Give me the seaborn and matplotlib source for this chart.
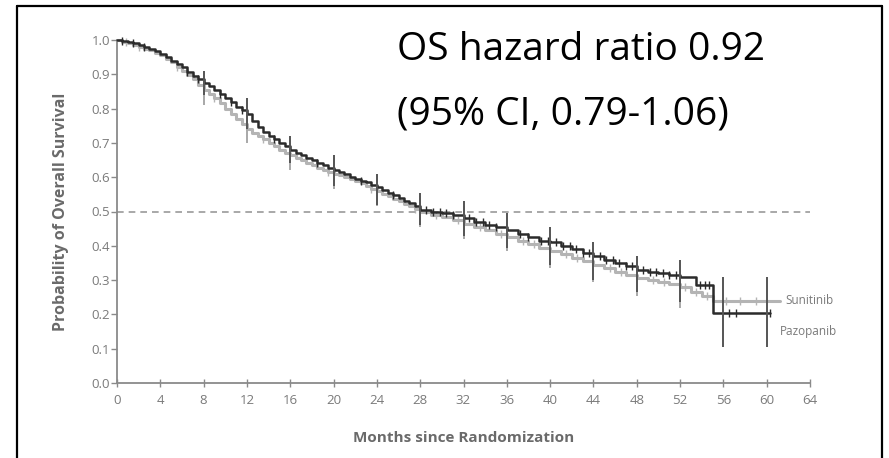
import numpy as np
import pandas as pd
import matplotlib
matplotlib.use("Agg")
import matplotlib.pyplot as plt
import seaborn as sns
from matplotlib.lines import Line2D

# ---------------- data ----------------
paz_t = [0, 0.5, 1, 1.5, 2, 2.5, 3, 3.5, 4, 4.5, 5, 5.5, 6, 6.5, 7, 7.5, 8, 8.5, 9, 9.5,
         10, 10.5, 11, 11.5, 12, 12.5, 13, 13.5, 14, 14.5, 15, 15.5, 16, 16.5, 17, 17.5,
         18, 18.5, 19, 19.5, 20, 20.5, 21, 21.5, 22, 22.5, 23, 23.5, 24, 24.5, 25, 25.5,
         26, 26.5, 27, 27.5, 28, 29, 30, 31, 32, 33, 34, 35, 36, 37, 38, 39,
         40, 41, 42, 43, 44, 45, 46, 47, 48, 49, 50, 51, 52, 53.5, 55.0, 60.3]
paz_s = [1.0, 0.998, 0.995, 0.99, 0.985, 0.98, 0.975, 0.968, 0.96, 0.95, 0.94, 0.93,
         0.92, 0.907, 0.895, 0.885, 0.875, 0.865, 0.855, 0.843, 0.83, 0.818, 0.805, 0.795,
         0.785, 0.765, 0.745, 0.732, 0.72, 0.71, 0.70, 0.69, 0.68, 0.672, 0.665, 0.657,
         0.65, 0.642, 0.635, 0.627, 0.62, 0.615, 0.61, 0.602, 0.595, 0.59, 0.585, 0.577,
         0.57, 0.562, 0.555, 0.547, 0.54, 0.532, 0.525, 0.515, 0.505, 0.50, 0.495, 0.49,
         0.48, 0.47, 0.46, 0.455, 0.445, 0.435, 0.425, 0.415, 0.41, 0.40, 0.39, 0.38,
         0.37, 0.36, 0.35, 0.34, 0.33, 0.325, 0.32, 0.315, 0.31, 0.285, 0.205, 0.205]

sun_t = [0, 0.5, 1, 1.5, 2, 2.5, 3, 3.5, 4, 4.5, 5, 5.5, 6, 6.5, 7, 7.5, 8, 8.5, 9, 9.5,
         10, 10.5, 11, 11.5, 12, 12.5, 13, 13.5, 14, 14.5, 15, 15.5, 16, 16.5, 17, 17.5,
         18, 18.5, 19, 19.5, 20, 20.5, 21, 21.5, 22, 22.5, 23, 23.5, 24, 24.5, 25, 25.5,
         26, 26.5, 27, 27.5, 28, 29, 30, 31, 32, 33, 34, 35, 36, 37, 38, 39,
         40, 41, 42, 43, 44, 45, 46, 47, 48, 49, 50, 51, 52, 53, 54, 55, 61.2]
sun_s = [1.0, 0.995, 0.99, 0.985, 0.98, 0.975, 0.97, 0.962, 0.955, 0.945, 0.935, 0.922,
         0.91, 0.897, 0.885, 0.87, 0.855, 0.842, 0.83, 0.815, 0.80, 0.785, 0.77, 0.755,
         0.74, 0.73, 0.72, 0.71, 0.70, 0.69, 0.68, 0.672, 0.665, 0.657, 0.65, 0.642,
         0.635, 0.627, 0.62, 0.615, 0.61, 0.605, 0.60, 0.595, 0.59, 0.582, 0.575, 0.567,
         0.56, 0.552, 0.545, 0.537, 0.53, 0.522, 0.515, 0.507, 0.50, 0.49, 0.485, 0.475,
         0.465, 0.455, 0.445, 0.435, 0.425, 0.415, 0.405, 0.395, 0.385, 0.375, 0.365,
         0.355, 0.345, 0.335, 0.325, 0.315, 0.305, 0.30, 0.295, 0.29, 0.28, 0.265, 0.255,
         0.24, 0.24]

ci_t = [8, 12, 16, 20, 24, 28, 32, 36, 40, 44, 48, 52, 56, 60]
paz_lo = [0.84, 0.74, 0.64, 0.575, 0.52, 0.46, 0.43, 0.395, 0.345, 0.30, 0.265, 0.235, 0.105, 0.105]
paz_hi = [0.91, 0.83, 0.72, 0.665, 0.61, 0.555, 0.53, 0.495, 0.455, 0.41, 0.37, 0.36, 0.31, 0.31]
sun_lo = [0.81, 0.70, 0.62, 0.565, 0.515, 0.455, 0.42, 0.385, 0.335, 0.295, 0.255, 0.22]
sun_hi = [0.89, 0.78, 0.70, 0.655, 0.605, 0.545, 0.515, 0.475, 0.435, 0.395, 0.355, 0.33]

paz_cens = [0.5, 1.5, 2.5, 6.5, 7.5, 9.5, 10.5, 11.5, 14.5, 18.5, 22.5, 25.5, 28.5, 29.2,
            29.8, 30.4, 31.0, 32.5, 33.2, 33.8, 34.4, 35.0, 37.2, 38.0, 39.2, 39.8,
            40.5, 41.2, 41.8, 42.4, 43.0, 43.6, 44.6, 45.2, 45.8, 46.4, 47.0, 47.6,
            48.6, 49.2, 49.8, 50.4, 51.0, 51.6, 53.8, 54.3, 54.7, 56.5, 57.2, 60.3]
sun_cens = [0.8, 2.0, 5.5, 9.0, 13.5, 19.5, 23.5, 27.5, 29.5, 31.5, 33.5, 35.5, 37.5,
            38.5, 41.5, 42.5, 45.5, 46.5, 49.5, 50.5, 52.5, 53.5, 54.5, 56.2, 57.5, 59.0]

x_ticks = list(range(0, 65, 4))
y_ticks = [0.0, 0.1, 0.2, 0.3, 0.4, 0.5, 0.6, 0.7, 0.8, 0.9, 1.0]
colors = {"Pazopanib": "#2b2b2b", "Sunitinib": "#b4b4b4"}

# ---------------- plot ----------------
sns.set_theme(style="white")
plt.rcParams["font.family"] = ["Open Sans", "DejaVu Sans"]
W, H = 889, 458
fig = plt.figure(figsize=(W / 100, H / 100), dpi=100)
ax = fig.add_axes([117 / W, 1 - 383 / H, (810 - 117) / W, (383 - 40) / H])

df = pd.concat([
    pd.DataFrame({"t": paz_t, "s": paz_s, "arm": "Pazopanib"}),
    pd.DataFrame({"t": sun_t, "s": sun_s, "arm": "Sunitinib"}),
])

sns.lineplot(data=df[df.arm == "Sunitinib"], x="t", y="s", color=colors["Sunitinib"],
             drawstyle="steps-post", estimator=None, sort=False, lw=2.2, ax=ax,
             legend=False, clip_on=False, zorder=3)
sns.lineplot(data=df[df.arm == "Pazopanib"], x="t", y="s", color=colors["Pazopanib"],
             drawstyle="steps-post", estimator=None, sort=False, lw=1.8, ax=ax,
             legend=False, clip_on=False, zorder=4)


def step_at(ts, ss, x):
    idx = np.searchsorted(np.array(ts), x, side="right") - 1
    return np.array(ss)[idx]


ax.scatter(sun_cens, step_at(sun_t, sun_s, np.array(sun_cens)), marker="|", s=30,
           color=colors["Sunitinib"], lw=1.0, zorder=3, clip_on=False)
ax.scatter(paz_cens, step_at(paz_t, paz_s, np.array(paz_cens)), marker="|", s=30,
           color=colors["Pazopanib"], lw=1.0, zorder=4, clip_on=False)

ax.vlines(ci_t[:len(sun_lo)], sun_lo, sun_hi, color="#a8a8a8", lw=1.4, zorder=3)
ax.vlines(ci_t, paz_lo, paz_hi, color="#555555", lw=1.4, zorder=4)

ax.plot([0, 64], [0.5, 0.5], ls=(0, (4, 3)), color="#9a9a9a", lw=1.2, zorder=1)

ax.set_xlim(0, 64)
ax.set_ylim(0, 1.0)
ax.set_xticks(x_ticks)
ax.set_yticks(y_ticks)
ax.set_yticklabels([f"{v:.1f}" for v in y_ticks])
for sp in ["top", "right"]:
    ax.spines[sp].set_visible(False)
for sp in ["left", "bottom"]:
    ax.spines[sp].set_color("#8a8a8a")
    ax.spines[sp].set_linewidth(1.3)
ax.tick_params(axis="y", direction="out", length=4, width=1, color="#8a8a8a",
               labelsize=9.5, labelcolor="#7a7a7a", pad=1, left=True)
ax.tick_params(axis="x", direction="inout", length=6, width=1, color="#8a8a8a",
               labelsize=9.5, labelcolor="#7a7a7a", pad=5, bottom=True)
ax.set_xlabel("Months since Randomization", fontsize=11, fontweight="bold",
              color="#6a6a6a", labelpad=17)
ax.set_ylabel("Probability of Overall Survival", fontsize=11.5, fontweight="bold",
              color="#6a6a6a", labelpad=16)
ax.grid(False)

ax.text(61.7, 0.24, "Sunitinib", fontsize=8.5, color="#7a7a7a", va="center", ha="left",
        clip_on=False)
ax.text(61.2, 0.15, "Pazopanib", fontsize=8.5, color="#7a7a7a", va="center", ha="left",
        clip_on=False)

fig.text(397 / W, 1 - 60 / H, "OS hazard ratio 0.92", fontsize=28, color="black",
         ha="left", va="baseline")
fig.text(397 / W, 1 - 125 / H, "(95% CI, 0.79-1.06)", fontsize=28, color="black",
         ha="left", va="baseline")

# outer frame
for (x0, y0, x1, y1) in [(17, 6, 882, 6), (17, 6, 17, 458), (882, 6, 882, 458)]:
    fig.add_artist(Line2D([x0 / W, x1 / W], [1 - y0 / H, 1 - y1 / H], color="black",
                          lw=1.6, transform=fig.transFigure))

fig.savefig("out.png", dpi=100)
